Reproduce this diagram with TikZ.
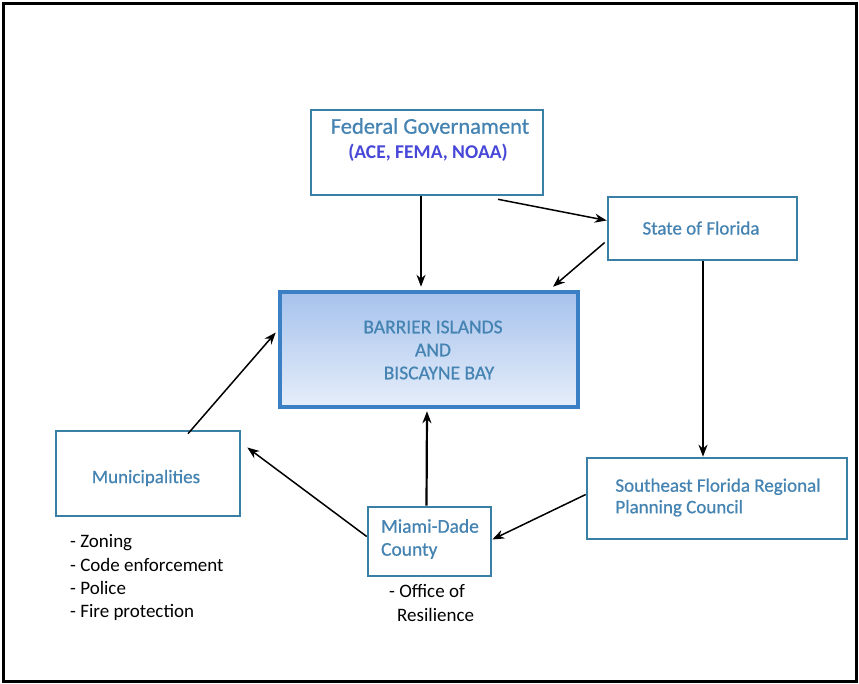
\documentclass[tikz,border=0pt]{standalone}
\usepackage{fontspec}
\setmainfont{Carlito}
\newfontfamily\boxfont{Carlito}[FakeBold=0.7]
\usetikzlibrary{arrows.meta}
\definecolor{boxline}{HTML}{3A80A6}
\definecolor{bayline}{HTML}{3B7FC4}
\definecolor{labeltext}{HTML}{4584B2}
\definecolor{agencytext}{HTML}{4848D8}
\definecolor{baytop}{HTML}{A6C2EC}
\definecolor{baybottom}{HTML}{E6EEFA}
\tikzset{
  govbox/.style={draw=boxline, line width=2.6pt, fill=white, inner sep=0pt},
  boxtext/.style={text=labeltext, font=\boxfont\fontsize{19}{22}\selectfont, inner sep=0pt},
  notetext/.style={font=\fontsize{19}{23.3}\selectfont, align=left, inner sep=0pt},
  link/.style={-{Stealth[length=12pt, width=9pt]}, line width=1.5pt}
}
\begin{document}
\begin{tikzpicture}[x=1pt, y=-1pt]
    \useasboundingbox (0,0) rectangle (859,684);
    \fill[white] (0,0) rectangle (859,684);
    \draw[line width=3pt] (3,3.5) rectangle (856,681);

    % boxes
    \node[govbox, minimum width=232pt, minimum height=85pt] (fed) at (427,152.5) {};
    \node[govbox, minimum width=189pt, minimum height=63pt] (state) at (702.5,228.5) {};
    \node[draw=bayline, line width=4.5pt, top color=baytop, bottom color=baybottom,
          minimum width=298pt, minimum height=115pt, inner sep=0pt] (bay) at (429,349.5) {};
    \node[govbox, minimum width=184pt, minimum height=85pt] (muni) at (148,473.5) {};
    \node[govbox, minimum width=123pt, minimum height=69pt] (mdc) at (429.5,541.5) {};
    \node[govbox, minimum width=260pt, minimum height=81pt] (sfrpc) at (717,498.5) {};

    % box texts
    \node[boxtext, font=\boxfont\fontsize{22.5}{26}\selectfont] (fedname) at (430,126) {Federal Governament};
    \node[boxtext, text=agencytext, font=\bfseries\fontsize{19.5}{22}\selectfont] (fedagency) at (428,153) {(ACE, FEMA, NOAA)};
    \node[boxtext] (statename) at (701,228) {State of Florida};
    \node[boxtext, font=\boxfont\fontsize{19.5}{23}\selectfont, align=center] (bayname) at (433,350)
        {BARRIER ISLANDS\\AND\\\hspace{12pt}BISCAYNE BAY};
    \node[boxtext] (muniname) at (146,478) {Municipalities};
    \node[boxtext, align=left, font=\boxfont\fontsize{19.5}{23}\selectfont] (mdcname) at (430,539) {Miami-Dade\\County};
    \node[boxtext, align=left, font=\boxfont\fontsize{19}{21.5}\selectfont] (sfrpcname) at (718,497.5)
        {Southeast Florida Regional\\Planning Council};

    % notes
    \node[notetext, anchor=north west] (muninote) at (70,534.5)
        {- Zoning\\- Code enforcement\\- Police\\- Fire protection};
    \node[notetext, anchor=north west] (mdcnote) at (389,584.5)
        {- Office of\\\hspace{8pt}Resilience};

    % arrows
    \draw[link] ([xshift=-6pt]fed.south) -- ([xshift=-8pt, yshift=3pt]bay.north);
    \draw[link] ([xshift=71pt, yshift=-3pt]fed.south) -- ([yshift=8pt]state.west);
    \draw[link] ([xshift=-2pt, yshift=-14pt]state.west) -- ([xshift=124pt, yshift=3pt]bay.north);
    \draw[link, line width=1.8pt] ([xshift=0.5pt]state.south) -- ([xshift=0.5pt]sfrpc.north -| state.south);
    \draw[link] ([yshift=4pt]sfrpc.west) -- ([yshift=2pt]mdc.east);
    \draw[link, line width=2.2pt] ([xshift=-3pt]mdc.north) -- ([xshift=-2pt, yshift=-2pt]bay.south);
    \draw[link] ([yshift=5pt]mdc.west) -- ([xshift=6pt, yshift=26pt]muni.east);
    \draw[link] ([xshift=40pt, yshift=-4pt]muni.north) -- ([yshift=17pt, xshift=-2pt]bay.west);
\end{tikzpicture}
\end{document}
